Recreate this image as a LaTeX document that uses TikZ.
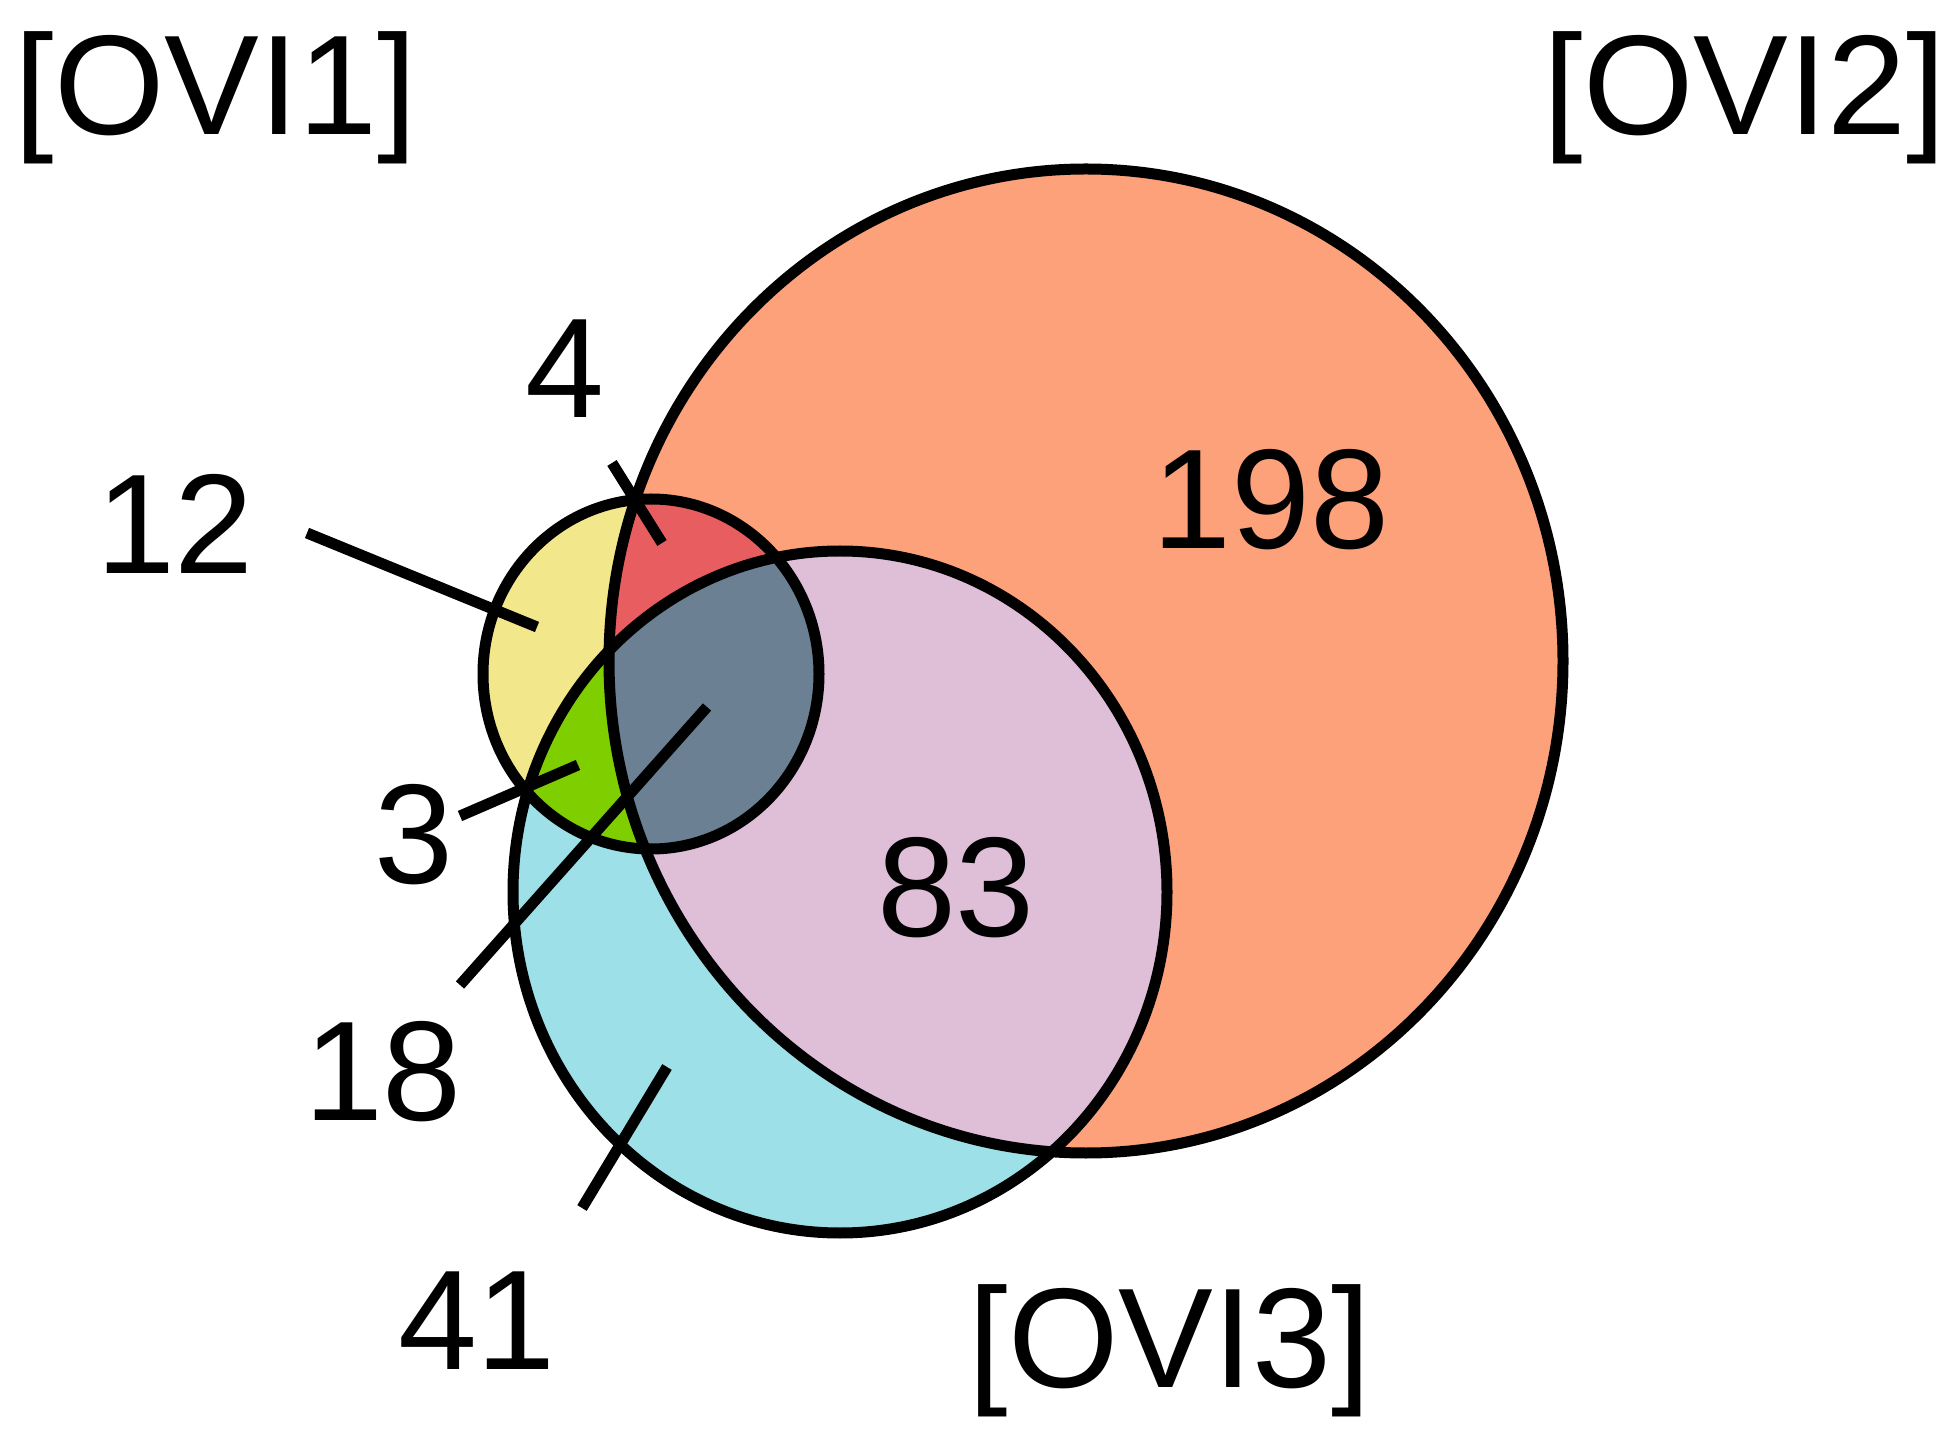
\documentclass[tikz,border=0pt]{standalone}
\usepackage{fontspec}
\setmainfont{Liberation Sans}
\definecolor{cB}{RGB}{253,161,122}
\definecolor{cC}{RGB}{157,224,232}
\definecolor{cA}{RGB}{243,231,140}
\definecolor{cBC}{RGB}{223,190,216}
\definecolor{cAB}{RGB}{232,94,96}
\definecolor{cAC}{RGB}{127,206,0}
\definecolor{cABC}{RGB}{107,128,146}
\begin{document}
\begin{tikzpicture}[x=0.5pt,y=-0.5pt,
  lbl/.style={anchor=base,inner sep=0pt,font=\fontsize{71}{80}\selectfont},
  leader/.style={line width=5.5pt},
  outline/.style={line width=5.5pt}]
\useasboundingbox (0,0) rectangle (1956,1443);
\def\setA{(651,674) ellipse [x radius=168, y radius=175]}
\def\setB{(1086,661) ellipse [x radius=477, y radius=492]}
\def\setC{(840,892) ellipse [x radius=327, y radius=341]}
% region fills
\fill[cB] \setB;
\fill[cC] \setC;
\fill[cA] \setA;
\begin{scope} \clip \setB; \fill[cBC] \setC; \end{scope}
\begin{scope} \clip \setA; \fill[cAB] \setB; \end{scope}
\begin{scope} \clip \setA; \fill[cAC] \setC; \end{scope}
\begin{scope} \clip \setA; \clip \setB; \fill[cABC] \setC; \end{scope}
% outlines
\draw[outline] \setB;
\draw[outline] \setC;
\draw[outline] \setA;
% set labels
\node[lbl] (ovi1) at (216,135) {[OVI1]};
\node[lbl] (ovi2) at (1745,135) {[OVI2]};
\node[lbl] (ovi3) at (1170,1387) {[OVI3]};
% counts
\node[lbl] (n198) at (1271,549) {198};
\node[lbl] (n83) at (956,936) {83};
\node[lbl] (n4) at (565,418) {4};
\node[lbl] (n12) at (175,574) {12};
\node[lbl] (n3) at (414,884) {3};
\node[lbl] (n18) at (383,1120) {18};
\node[lbl] (n41) at (477,1369) {41};
% leader line ends
\coordinate (l4a) at (612,463);  \coordinate (l4b) at (662,543);
\coordinate (l12a) at (307,533); \coordinate (l12b) at (537,627);
\coordinate (l3a) at (460,816);  \coordinate (l3b) at (578,765);
\coordinate (l18a) at (460,985); \coordinate (l18b) at (707,707);
\coordinate (l41a) at (582,1208); \coordinate (l41b) at (667,1067);
\draw[leader] (l4a) -- (l4b);
\draw[leader] (l12a) -- (l12b);
\draw[leader] (l3a) -- (l3b);
\draw[leader] (l18a) -- (l18b);
\draw[leader] (l41a) -- (l41b);
\end{tikzpicture}
\end{document}
